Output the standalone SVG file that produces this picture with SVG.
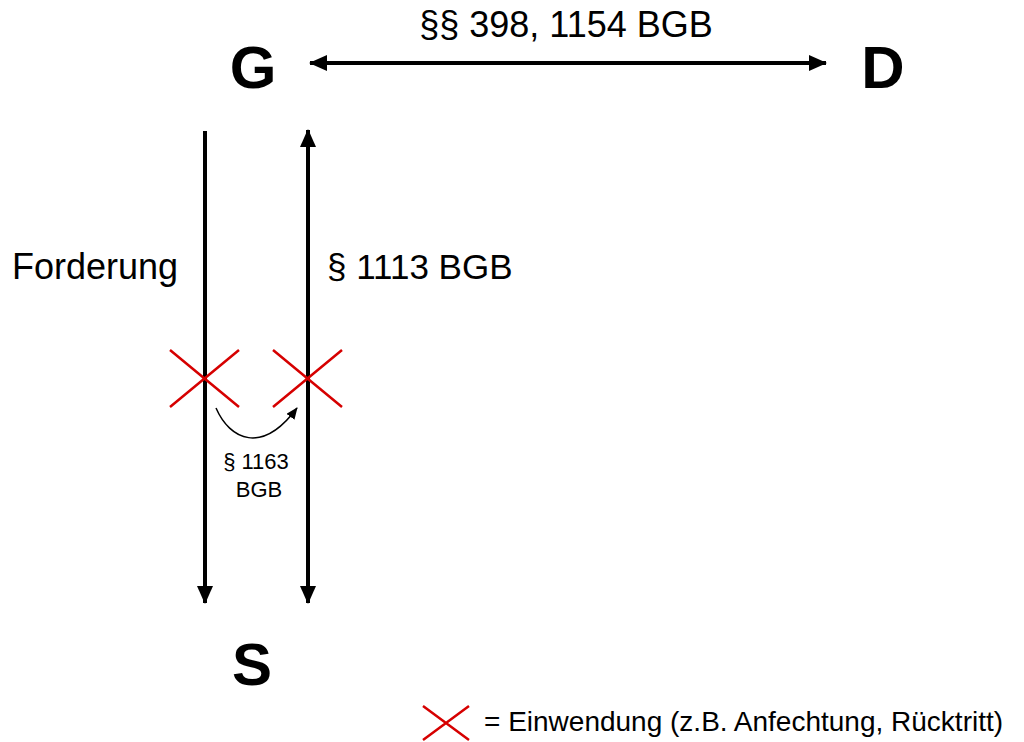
<svg xmlns="http://www.w3.org/2000/svg" width="1024" height="742" viewBox="0 0 1024 742">
<style>
.lbl{font-family:"Liberation Sans",Arial,sans-serif;fill:#000}
.big{font-size:60px;font-weight:bold;text-anchor:middle}
.conn{stroke:#000;stroke-width:4;fill:none}
.x{stroke:#d60000;stroke-width:2.5;fill:none}
</style>
<defs>
<marker id="ah" viewBox="0 0 18 16" refX="17" refY="8" markerWidth="18" markerHeight="16" markerUnits="userSpaceOnUse" orient="auto-start-reverse">
<path d="M0,0 L18,8 L0,16 Z" fill="#000"/>
</marker>
<marker id="ahs" viewBox="0 0 12 10" refX="11" refY="5" markerWidth="12" markerHeight="10" markerUnits="userSpaceOnUse" orient="auto">
<path d="M0,0 L12,5 L0,10 Z" fill="#000"/>
</marker>
</defs>
<rect width="1024" height="742" fill="#fff"/>
<g id="node-G"><text class="lbl big" x="253" y="88">G</text></g>
<g id="node-D"><text class="lbl big" x="883" y="88">D</text></g>
<g id="node-S"><text class="lbl big" x="252" y="685">S</text></g>
<g id="connectors">
<line class="conn" x1="310" y1="63" x2="826" y2="63" marker-start="url(#ah)" marker-end="url(#ah)"/>
<line class="conn" x1="205" y1="131" x2="205" y2="603" marker-end="url(#ah)"/>
<line class="conn" x1="308" y1="130" x2="308" y2="603" marker-start="url(#ah)" marker-end="url(#ah)"/>
<path d="M216,408 C230,440 262,455 297,408" stroke="#000" stroke-width="1.5" fill="none" marker-end="url(#ahs)"/>
</g>
<g id="labels">
<text class="lbl" x="566" y="37" font-size="36" text-anchor="middle">§§ 398, 1154 BGB</text>
<text class="lbl" x="12" y="279" font-size="36">Forderung</text>
<text class="lbl" x="327" y="279" font-size="35">§ 1113 BGB</text>
<text class="lbl" x="256" y="469" font-size="22" text-anchor="middle">§ 1163</text>
<text class="lbl" x="259" y="497" font-size="22" text-anchor="middle">BGB</text>
</g>
<g id="crosses">
<path class="x" d="M170,350 L239,407 M239,350 L170,407"/>
<path class="x" d="M273,350 L342,407 M342,350 L273,407"/>
</g>
<g id="legend">
<path class="x" d="M423,706 L469,740 M469,706 L423,740"/>
<text class="lbl" x="484" y="731" font-size="28">= Einwendung (z.B. Anfechtung, Rücktritt)</text>
</g>
</svg>
